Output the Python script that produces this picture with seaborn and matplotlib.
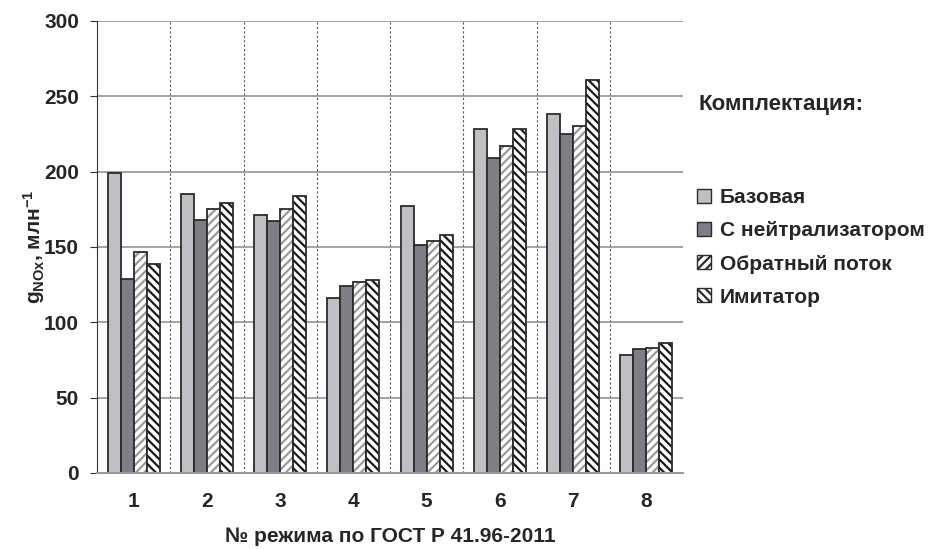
import pandas as pd
import numpy as np
import matplotlib
matplotlib.use('Agg')
import matplotlib.pyplot as plt
import seaborn as sns
from matplotlib.patches import Patch

# ========== DATA ==========
modes = ['1', '2', '3', '4', '5', '6', '7', '8']
series = ['Базовая', 'С нейтрализатором', 'Обратный поток', 'Имитатор']
bazovaya = [199, 185, 171, 116, 177, 228, 238, 78]
neitral = [129, 168, 167, 124, 151, 209, 225, 82]
obratny = [147, 175, 175, 127, 154, 217, 230, 83]
imitator = [139, 179, 184, 128, 158, 228, 261, 86]

df = pd.DataFrame({
    'mode': modes * 4,
    'kit': [s for s in series for _ in modes],
    'val': bazovaya + neitral + obratny + imitator,
})

# ========== STYLE ==========
sns.set_style('white')
plt.rcParams['font.family'] = ['Liberation Sans', 'DejaVu Sans']
plt.rcParams['font.weight'] = 'bold'
plt.rcParams['mathtext.fontset'] = 'custom'
plt.rcParams['mathtext.rm'] = 'Liberation Sans:bold'
plt.rcParams['mathtext.bf'] = 'Liberation Sans:bold'
plt.rcParams['mathtext.it'] = 'Liberation Sans:bold'
plt.rcParams['hatch.linewidth'] = 1.6

face = ['#c0c0c4', '#7e7f84', 'white', 'white']
hatch = [None, None, '////', '\\\\\\\\']
hcol = ['#2b2b2b', '#2b2b2b', '#9a9a9a', '#1a1a1a']

fig = plt.figure(figsize=(9.3, 5.49), dpi=100)
ax = fig.add_axes([97 / 930, 1 - 473 / 549, 586 / 930, 452 / 549])

sns.barplot(data=df, x='mode', y='val', hue='kit', hue_order=series,
            order=modes, width=0.71, gap=0, ax=ax, legend=False,
            palette=face, saturation=1)

for i, cont in enumerate(ax.containers):
    for b in cont:
        b.set_edgecolor('#2b2b2b')
        b.set_linewidth(1.3)
        if hatch[i]:
            b.set_hatch(hatch[i])
            b._hatch_color = matplotlib.colors.to_rgba(hcol[i])

ax.set_ylim(0, 300)
ax.set_xlim(-0.5, 7.5)
ax.set_yticks(range(0, 301, 50))
ax.yaxis.grid(True, color='#8a8a8a', linewidth=1.1)
ax.set_axisbelow(True)
for xs in np.arange(0.5, 7.5, 1):
    ax.axvline(xs, color='#555555', linestyle=(0, (2, 2)), linewidth=0.8, zorder=0)

ax.set_xticks(range(8))
ax.set_xticklabels(modes)
ax.set_xticks(np.arange(-0.5, 8.0, 1), minor=True)
ax.tick_params(axis='x', which='major', length=0, pad=14, labelsize=15)
ax.tick_params(axis='x', which='minor', length=5, color='#333333', direction='out')
ax.tick_params(axis='y', length=5, color='#333333', direction='out', labelsize=15, left=True, pad=8)

for s in ['top', 'right']:
    ax.spines[s].set_visible(False)
ax.spines['left'].set_color('#333333')
ax.spines['bottom'].set_color('#999999')
ax.spines['bottom'].set_linewidth(1.5)

ax.set_xlabel('№ режима по ГОСТ Р 41.96-2011', fontsize=15, fontweight='bold', labelpad=11)
ax.set_ylabel(r'$g_{NOx}$, млн$^{-1}$', fontsize=15, fontweight='bold', labelpad=-2)

handles = []
for i in range(4):
    handles.append(Patch(facecolor=face[i], edgecolor='#2b2b2b', hatch=hatch[i], linewidth=1.0))
leg = fig.legend(handles, series, loc='upper left', bbox_to_anchor=(693 / 930, 1 - 184 / 549),
                 frameon=False, fontsize=15, handlelength=0.65, handleheight=0.65,
                 handletextpad=0.45, labelspacing=0.68, borderaxespad=0, borderpad=0.2)
for t in leg.get_texts():
    t.set_fontweight('bold')
fig.text(698 / 930, 1 - 104 / 549, 'Комплектация:', fontsize=16, fontweight='bold', va='center')

plt.savefig('out.png', dpi=100)
